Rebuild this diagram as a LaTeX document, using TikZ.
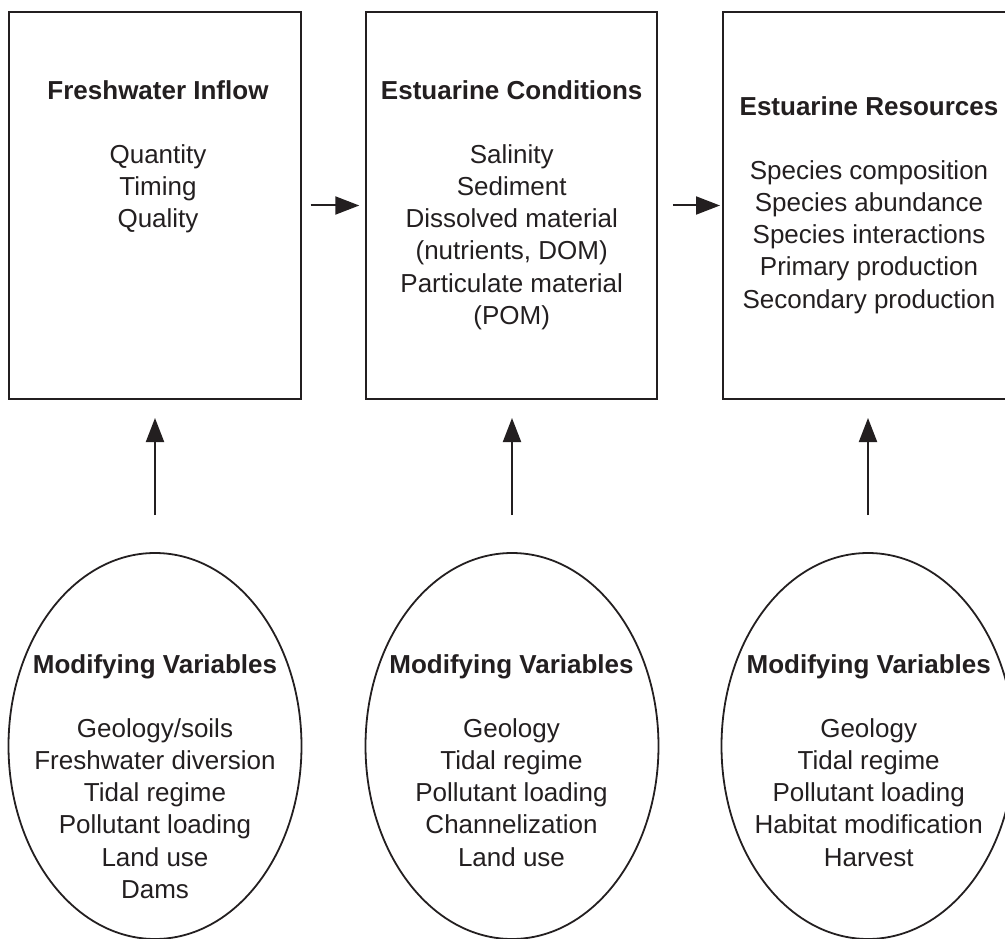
\documentclass[tikz,border=0pt]{standalone}
\usepackage{fontspec}
\setmainfont{Liberation Sans}
\usetikzlibrary{shapes.geometric,arrows.meta}
\definecolor{ink}{HTML}{231F20}
\begin{document}
\begin{tikzpicture}[x=1pt,y=-1pt,
  boxn/.style={draw=ink,line width=2pt,rectangle,minimum width=291.4pt,minimum height=387pt,inner sep=0pt},
  ovaln/.style={draw=ink,line width=1.8pt,ellipse,minimum width=293pt,minimum height=386pt,inner sep=0pt},
  txt/.style={text=ink,align=center,inner sep=0pt,anchor=north,font=\fontsize{26}{32.3}\selectfont},
  arr/.style={draw=ink,line width=2pt,-{Triangle[length=24pt,width=18pt]}}]
\useasboundingbox (0,0) rectangle (1005,939);
\clip (0,0) rectangle (1005,939);
% boxes
\node[boxn] (b1) at (155,205.5) {};
\node[boxn] (b2) at (511.7,205.5) {};
\node[boxn] (b3) at (869,205.5) {};
% ellipses
\node[ovaln] (m1) at (155,746) {};
\node[ovaln] (m2) at (512,746) {};
\node[ovaln] (m3) at (868,746) {};
% texts
\node[txt] (t1) at (158,80) {\textbf{Freshwater Inflow}\\[31.7pt]Quantity\\Timing\\Quality};
\node[txt] (t2) at (511.7,80) {\textbf{Estuarine Conditions}\\[31.7pt]Salinity\\Sediment\\Dissolved material\\(nutrients, DOM)\\Particulate material\\(POM)};
\node[txt] (t3) at (869,96) {\textbf{Estuarine Resources}\\[31.7pt]Species composition\\Species abundance\\Species interactions\\Primary production\\Secondary production};
\node[txt] (u1) at (155,654) {\textbf{Modifying Variables}\\[31.7pt]Geology/soils\\Freshwater diversion\\Tidal regime\\Pollutant loading\\Land use\\Dams};
\node[txt] (u2) at (511.5,654) {\textbf{Modifying Variables}\\[31.7pt]Geology\\Tidal regime\\Pollutant loading\\Channelization\\Land use};
\node[txt] (u3) at (868.7,654) {\textbf{Modifying Variables}\\[31.7pt]Geology\\Tidal regime\\Pollutant loading\\Habitat modification\\Harvest};
% arrows
\draw[arr,shorten <=9pt,shorten >=5.7pt] (b1.east) -- (b2.west);
\draw[arr,shorten <=14.4pt,shorten >=2.3pt] (b2.east) -- (b3.west);
\draw[arr,shorten <=37pt,shorten >=18pt] (m1.north) -- (m1.north |- b1.south);
\draw[arr,shorten <=37pt,shorten >=18pt] (m2.north) -- (m2.north |- b2.south);
\draw[arr,shorten <=37pt,shorten >=18pt] (m3.north) -- (m3.north |- b3.south);
\end{tikzpicture}
\end{document}
